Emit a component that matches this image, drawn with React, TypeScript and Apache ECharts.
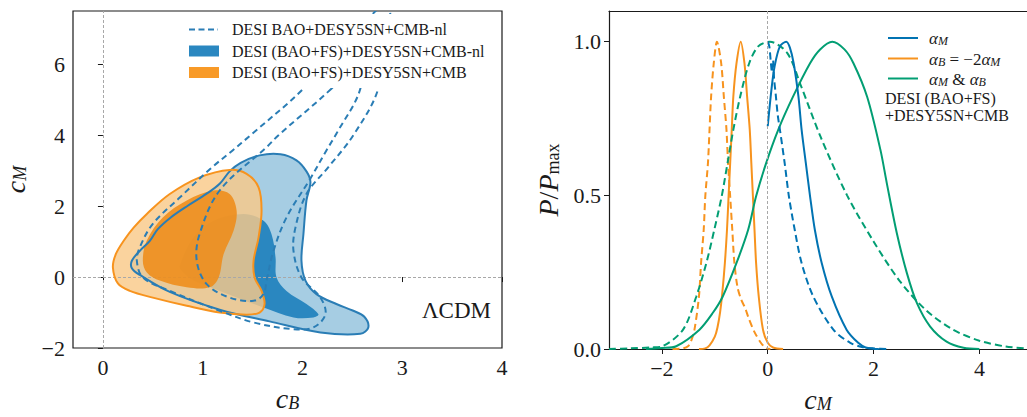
import React, { useEffect, useRef } from 'react';
import * as echarts from 'echarts';

// ---------- tick labels ----------
const leftXTicks = [0, 1, 2, 3, 4];
const leftYTicks = [-2, 0, 2, 4, 6];
const rightXTicks = [-2, 0, 2, 4];
const rightYTicks = [0, 0.5, 1.0];

// ---------- left panel: contours (c_B, c_M) ----------
// DESI (BAO+FS)+DESY5SN+CMB-nl, 95% region
const blueOuter = [
  [0.29, 0.46], [0.37, 0.74], [0.47, 1.02], [0.55, 1.35], [0.68, 1.68], [0.85, 2.01],
  [1.04, 2.35], [1.17, 2.63], [1.27, 2.98], [1.38, 3.22], [1.57, 3.43], [1.78, 3.46],
  [1.94, 3.29], [2.04, 2.98], [2.08, 2.68], [2.04, 2.16], [2.01, 1.22], [1.99, 0.46],
  [2.03, -0.1], [2.14, -0.48], [2.34, -0.76], [2.51, -0.95], [2.62, -1.12], [2.66, -1.42],
  [2.58, -1.6], [2.18, -1.56], [1.67, -1.25], [1.17, -0.92], [0.67, -0.42], [0.37, 0.06],
  [0.29, 0.25],
];
// DESI (BAO+FS)+DESY5SN+CMB-nl, 68% region
const blueInner = [
  [0.77, 0.32], [0.91, 1.12], [1.11, 1.59], [1.41, 1.78], [1.61, 1.59], [1.69, 1.21],
  [1.73, 0.55], [1.74, -0.01], [1.84, -0.39], [2.04, -0.76], [2.16, -1.05], [2.11, -1.14],
  [1.91, -1.14], [1.61, -0.86], [1.17, -0.39], [0.91, -0.1], [0.79, 0.18],
];
// DESI (BAO+FS)+DESY5SN+CMB, 95% region
const orangeOuter = [
  [0.1, 0.27], [0.13, 0.65], [0.21, 1.03], [0.31, 1.4], [0.44, 1.78], [0.67, 2.34],
  [0.97, 2.81], [1.27, 3.02], [1.44, 2.91], [1.56, 2.53], [1.59, 1.87], [1.56, 1.12],
  [1.51, 0.46], [1.52, -0.01], [1.59, -0.39], [1.62, -0.76], [1.57, -1.0], [1.44, -1.06],
  [1.17, -1.0], [0.84, -0.81], [0.5, -0.58], [0.27, -0.39], [0.15, -0.18],
];
// DESI (BAO+FS)+DESY5SN+CMB, 68% region
const orangeInner = [
  [0.4, 0.46], [0.44, 1.03], [0.6, 1.68], [0.84, 2.16], [1.11, 2.44], [1.27, 2.34],
  [1.34, 1.87], [1.31, 1.31], [1.21, 0.65], [1.16, -0.01], [1.07, -0.29], [0.84, -0.29],
  [0.57, -0.1], [0.44, 0.13],
];
// DESI BAO+DESY5SN+CMB-nl, 95% contour
const dashedOuter = [
  [2.84, 7.64], [2.73, 7.49], [2.01, 5.31], [1.48, 4.0], [1.3, 3.57], [1.08, 3.06],
  [0.77, 2.24], [0.5, 1.5], [0.37, 0.84], [0.34, 0.46], [0.4, -0.01], [0.67, -0.39],
  [1.17, -0.95], [1.51, -1.28], [1.91, -1.47], [2.11, -1.42], [2.23, -1.05], [2.18, -0.58],
  [1.99, -0.01], [1.91, 0.74], [1.93, 1.4], [2.04, 2.34], [2.26, 3.1], [2.51, 4.0],
  [2.76, 5.31], [2.88, 7.38],
];
// DESI BAO+DESY5SN+CMB-nl, 68% contour
const dashedInner = [
  [2.29, 5.31], [1.76, 4.0], [1.64, 3.66], [1.17, 2.44], [0.97, 1.22], [0.94, 0.46],
  [1.04, -0.2], [1.27, -0.58], [1.51, -0.67], [1.61, -0.48], [1.64, -0.1], [1.71, 0.74],
  [1.84, 1.68], [2.08, 2.78], [2.24, 3.57], [2.34, 4.04], [2.58, 5.31], [2.55, 6.1],
];

// ---------- right panel: 1D posteriors (c_M, P/Pmax) ----------
const alphaMFS = [
  [0, 0.725], [0.07, 0.844], [0.13, 0.92], [0.23, 0.985], [0.35, 1.0], [0.42, 0.98],
  [0.49, 0.93], [0.58, 0.822], [0.64, 0.714], [0.72, 0.605], [0.8, 0.497], [0.89, 0.388],
  [1.02, 0.28], [1.21, 0.171], [1.49, 0.063], [1.71, 0.02], [1.85, 0.005], [2.0, 0.001], [2.1, 0],
];
const alphaMBAO = [
  [0, 1.0], [0.03, 0.985], [0.06, 0.93], [0.08, 0.9], [0.1, 0.94], [0.12, 0.88],
  [0.15, 0.83], [0.19, 0.76], [0.23, 0.714], [0.32, 0.605], [0.4, 0.497], [0.51, 0.388],
  [0.64, 0.28], [0.86, 0.171], [1.24, 0.063], [1.56, 0.02], [1.8, 0.006], [2.0, 0.002], [2.3, 0],
];
const alphaBFS = [
  [-1.3, 0], [-1.18, 0.002], [-1.1, 0.012], [-1.0, 0.04], [-0.95, 0.07], [-0.9, 0.12],
  [-0.86, 0.18], [-0.81, 0.28], [-0.77, 0.388], [-0.74, 0.497], [-0.71, 0.605], [-0.68, 0.714],
  [-0.65, 0.822], [-0.59, 0.93], [-0.51, 1.0], [-0.44, 0.93], [-0.39, 0.822], [-0.34, 0.714],
  [-0.31, 0.605], [-0.28, 0.497], [-0.25, 0.388], [-0.22, 0.28], [-0.17, 0.171], [-0.09, 0.063],
  [0.0, 0.02], [0.1, 0.005], [0.29, 0],
];
const alphaBBAO = [
  [-1.8, 0], [-1.6, 0.002], [-1.5, 0.01], [-1.45, 0.025], [-1.385, 0.063], [-1.3, 0.171],
  [-1.26, 0.28], [-1.21, 0.388], [-1.18, 0.497], [-1.13, 0.605], [-1.1, 0.714], [-1.07, 0.822],
  [-1.02, 0.93], [-0.96, 1.0], [-0.88, 0.93], [-0.83, 0.822], [-0.78, 0.714], [-0.75, 0.605],
  [-0.71, 0.497], [-0.67, 0.388], [-0.63, 0.28], [-0.57, 0.2], [-0.5, 0.16], [-0.43, 0.135],
  [-0.36, 0.1], [-0.25, 0.055], [-0.12, 0.018], [-0.03, 0.003], [0.05, 0],
];
const bothFS = [
  [-2.3, 0], [-2.0, 0.003], [-1.73, 0.009], [-1.29, 0.063], [-1.04, 0.117], [-0.85, 0.171],
  [-0.59, 0.28], [-0.37, 0.388], [-0.22, 0.497], [-0.03, 0.605], [0.2, 0.714], [0.48, 0.822],
  [0.8, 0.93], [0.99, 0.975], [1.22, 1.0], [1.45, 0.975], [1.62, 0.93], [1.88, 0.82],
  [2.13, 0.648], [2.25, 0.54], [2.44, 0.377], [2.63, 0.247], [2.82, 0.149], [3.07, 0.073],
  [3.38, 0.024], [3.7, 0.004], [4.0, 0],
];
const bothBAO = [
  [-3.0, 0], [-2.6, 0.002], [-2.2, 0.005], [-1.99, 0.009], [-1.6, 0.063], [-1.35, 0.171],
  [-1.16, 0.28], [-1.01, 0.388], [-0.87, 0.497], [-0.76, 0.605], [-0.65, 0.714], [-0.52, 0.822],
  [-0.35, 0.93], [-0.18, 0.985], [0.04, 1.0], [0.37, 0.963], [0.62, 0.86], [1.0, 0.69],
  [1.5, 0.5], [2.0, 0.35], [2.5, 0.22], [3.0, 0.125], [3.5, 0.063], [4.0, 0.027],
  [4.5, 0.008], [4.9, 0.002],
];

// ---------- styles ----------
const SERIF = "'Liberation Serif', 'DejaVu Serif', serif";
const INK = '#1a1a1a';
const BLUE_EDGE = '#2a7db5';
const BLUE_LIGHT = '#a6cde3';
const BLUE_DARK = '#2a87c0';
const ORANGE_EDGE = '#f7931e';
const C_BLUE = '#0173b2';
const C_ORANGE = '#f7931e';
const C_GREEN = '#029e73';

const minus = (v: number) => (v < 0 ? '\u2212' + Math.abs(v) : String(v));

function polygonSeries(name: string, pts: number[][], style: any, z: number) {
  return {
    type: 'custom',
    name,
    xAxisIndex: 0,
    yAxisIndex: 0,
    clip: true,
    z,
    silent: true,
    encode: { x: 0, y: 1 },
    data: pts,
    renderItem: (params: any, api: any) => {
      if (params.dataIndex !== 0) return null;
      const points = pts.map((p) => api.coord(p));
      return {
        type: 'polygon',
        shape: { points, smooth: 0.35 },
        style,
      };
    },
  };
}

function curve(pts: number[][], color: string, dashed: boolean) {
  return {
    type: 'line',
    xAxisIndex: 1,
    yAxisIndex: 1,
    data: pts,
    showSymbol: false,
    smooth: 0.3,
    silent: true,
    z: 3,
    lineStyle: { color, width: 2, type: dashed ? [7, 4] : 'solid' },
  };
}

const richMath = {
  c: { fontFamily: SERIF, fontStyle: 'italic', fontSize: 28, color: INK, verticalAlign: 'bottom', lineHeight: 28 },
  s: { fontFamily: SERIF, fontStyle: 'italic', fontSize: 18, color: INK, verticalAlign: 'bottom', lineHeight: 12 },
  r: { fontFamily: SERIF, fontSize: 18, color: INK, verticalAlign: 'bottom', lineHeight: 12 },
  n: { fontFamily: SERIF, fontSize: 28, color: INK, verticalAlign: 'bottom', lineHeight: 28 },
};

const legRich = {
  a: { fontFamily: SERIF, fontStyle: 'italic', fontSize: 17, fill: INK, verticalAlign: 'bottom', lineHeight: 18 },
  s: { fontFamily: SERIF, fontStyle: 'italic', fontSize: 12, fill: INK, verticalAlign: 'bottom', lineHeight: 9 },
  n: { fontFamily: SERIF, fontSize: 17, fill: INK, verticalAlign: 'bottom', lineHeight: 18 },
};

const tickLabel = { fontFamily: SERIF, fontSize: 22, color: INK, margin: 8 };

const option: any = {
  animation: false,
  backgroundColor: '#ffffff',
  textStyle: { fontFamily: SERIF },
  grid: [
    { left: 73, top: 11, width: 429, height: 337, show: true, borderColor: INK, borderWidth: 1.2, backgroundColor: 'transparent', containLabel: false, outerBoundsMode: 'none' },
    { left: 609, top: 11, width: 418, height: 338, show: false, containLabel: false, outerBoundsMode: 'none' },
  ],
  xAxis: [
    {
      type: 'value', gridIndex: 0, min: -0.3, max: 4,
      axisLine: { show: false },
      axisTick: { show: true, length: 5, inside: false, customValues: leftXTicks, lineStyle: { color: INK } },
      axisLabel: { ...tickLabel, customValues: leftXTicks, formatter: minus },
      splitLine: { show: false },
      name: '{c|c}{s|B}', nameLocation: 'middle', nameGap: 36,
      nameTextStyle: { rich: richMath },
    },
    {
      type: 'value', gridIndex: 1, min: -3, max: 4.9,
      axisLine: { show: true, onZero: false, lineStyle: { color: INK, width: 1.2 } },
      axisTick: { show: true, length: 5, customValues: rightXTicks, lineStyle: { color: INK } },
      axisLabel: { ...tickLabel, customValues: rightXTicks, formatter: minus },
      splitLine: { show: false },
      name: '{c|c}{s|M}', nameLocation: 'middle', nameGap: 36,
      nameTextStyle: { rich: richMath },
    },
    {
      type: 'value', gridIndex: 1, min: -3, max: 4.9, position: 'top',
      axisLine: { show: true, onZero: false, lineStyle: { color: INK, width: 1.2 } },
      axisTick: { show: false }, axisLabel: { show: false }, splitLine: { show: false },
    },
  ],
  yAxis: [
    {
      type: 'value', gridIndex: 0, min: -2, max: 7.5,
      axisLine: { show: false },
      axisTick: { show: true, length: 5, customValues: leftYTicks, lineStyle: { color: INK } },
      axisLabel: { ...tickLabel, customValues: leftYTicks, formatter: minus },
      splitLine: { show: false },
      name: '{c|c}{s|M}', nameLocation: 'middle', nameGap: 44, nameRotate: 90,
      nameTextStyle: { rich: richMath },
    },
    {
      type: 'value', gridIndex: 1, min: 0, max: 1.1,
      axisLine: { show: true, onZero: false, lineStyle: { color: INK, width: 1.2 } },
      axisTick: { show: true, length: 5, customValues: rightYTicks, lineStyle: { color: INK } },
      axisLabel: { ...tickLabel, customValues: rightYTicks, formatter: (v: number) => v.toFixed(1) },
      splitLine: { show: false },
      name: '{c|P}{n|/}{c|P}{r|max}', nameLocation: 'middle', nameGap: 47, nameRotate: 90,
      nameTextStyle: { rich: richMath },
    },
  ],
  series: [
    {
      type: 'line', xAxisIndex: 0, yAxisIndex: 0, data: [], silent: true, z: 1,
      markLine: {
        silent: true, symbol: 'none', label: { show: false },
        lineStyle: { color: '#a8a8a8', width: 1, type: [3, 2] },
        data: [{ xAxis: 0 }, { yAxis: 0 }],
      },
    },
    polygonSeries('blueOuter', blueOuter, { fill: BLUE_LIGHT }, 2),
    polygonSeries('blueInner', blueInner, { fill: BLUE_DARK }, 3),
    polygonSeries('orangeOuter', orangeOuter, { fill: 'rgba(249,201,137,0.82)' }, 4),
    polygonSeries('orangeInner', orangeInner, { fill: 'rgba(238,140,25,0.88)' }, 5),
    polygonSeries('blueOuterEdge', blueOuter, { fill: 'none', stroke: BLUE_EDGE, lineWidth: 2 }, 6),
    polygonSeries('orangeOuterEdge', orangeOuter, { fill: 'none', stroke: ORANGE_EDGE, lineWidth: 2 }, 7),
    polygonSeries('dashedOuter', dashedOuter, { fill: 'none', stroke: BLUE_EDGE, lineWidth: 2, lineDash: [6, 4] }, 8),
    polygonSeries('dashedInner', dashedInner, { fill: 'none', stroke: BLUE_EDGE, lineWidth: 2, lineDash: [6, 4] }, 8),
    {
      type: 'line', xAxisIndex: 1, yAxisIndex: 1, data: [], silent: true, z: 1,
      markLine: {
        silent: true, symbol: 'none', label: { show: false },
        lineStyle: { color: '#a8a8a8', width: 1, type: [3, 2] },
        data: [{ xAxis: 0 }],
      },
    },
    curve(alphaBBAO, C_ORANGE, true),
    curve(alphaBFS, C_ORANGE, false),
    curve(bothBAO, C_GREEN, true),
    curve(bothFS, C_GREEN, false),
    curve(alphaMBAO, C_BLUE, true),
    curve(alphaMFS, C_BLUE, false),
  ],
  graphic: [
    // left legend
    { type: 'rect', z: 100, shape: { x: 182, y: 14, width: 313, height: 74 }, style: { fill: '#ffffff' } },
    { type: 'line', z: 101, shape: { x1: 189, y1: 29.5, x2: 218, y2: 29.5 }, style: { stroke: BLUE_EDGE, lineWidth: 2, lineDash: [6, 3.5] } },
    { type: 'rect', z: 101, shape: { x: 189, y: 45.5, width: 30, height: 11 }, style: { fill: BLUE_DARK } },
    { type: 'rect', z: 101, shape: { x: 189, y: 67, width: 30, height: 11 }, style: { fill: '#f89a27' } },
    { type: 'text', z: 101, style: { x: 232, y: 29.5, text: 'DESI BAO+DESY5SN+CMB-nl', fontFamily: SERIF, fontSize: 16, fill: INK, verticalAlign: 'middle' } },
    { type: 'text', z: 101, style: { x: 232, y: 51, text: 'DESI (BAO+FS)+DESY5SN+CMB-nl', fontFamily: SERIF, fontSize: 16, fill: INK, verticalAlign: 'middle' } },
    { type: 'text', z: 101, style: { x: 232, y: 72.5, text: 'DESI (BAO+FS)+DESY5SN+CMB', fontFamily: SERIF, fontSize: 16, fill: INK, verticalAlign: 'middle' } },
    { type: 'text', z: 101, style: { x: 491, y: 310, text: '\u039BCDM', fontFamily: SERIF, fontSize: 23, fill: INK, align: 'right', verticalAlign: 'middle' } },
    // right legend
    { type: 'line', z: 101, shape: { x1: 888, y1: 38, x2: 918, y2: 38 }, style: { stroke: C_BLUE, lineWidth: 2 } },
    { type: 'line', z: 101, shape: { x1: 888, y1: 58.5, x2: 918, y2: 58.5 }, style: { stroke: C_ORANGE, lineWidth: 2 } },
    { type: 'line', z: 101, shape: { x1: 888, y1: 78.5, x2: 918, y2: 78.5 }, style: { stroke: C_GREEN, lineWidth: 2 } },
    { type: 'text', z: 101, style: { x: 929, y: 38, text: '{a|\u03B1}{s|M}', rich: legRich, verticalAlign: 'middle' } },
    { type: 'text', z: 101, style: { x: 929, y: 58.5, text: '{a|\u03B1}{s|B}{n| = \u22122}{a|\u03B1}{s|M}', rich: legRich, verticalAlign: 'middle' } },
    { type: 'text', z: 101, style: { x: 929, y: 78.5, text: '{a|\u03B1}{s|M}{n| & }{a|\u03B1}{s|B}', rich: legRich, verticalAlign: 'middle' } },
    { type: 'text', z: 101, style: { x: 885, y: 98.5, text: 'DESI (BAO+FS)', fontFamily: SERIF, fontSize: 16, fill: INK, verticalAlign: 'middle' } },
    { type: 'text', z: 101, style: { x: 885, y: 115, text: '+DESY5SN+CMB', fontFamily: SERIF, fontSize: 16, fill: INK, verticalAlign: 'middle' } },
  ],
};

export default function App() {
  const ref = useRef<HTMLDivElement>(null);
  useEffect(() => {
    const chart = echarts.init(ref.current!, null, { renderer: 'svg' });
    chart.setOption(option);
    return () => chart.dispose();
  }, []);
  return (
    <div
      ref={ref}
      style={{ position: 'absolute', left: 0, top: 0, width: 1027, height: 417, background: '#fff' }}
    />
  );
}
